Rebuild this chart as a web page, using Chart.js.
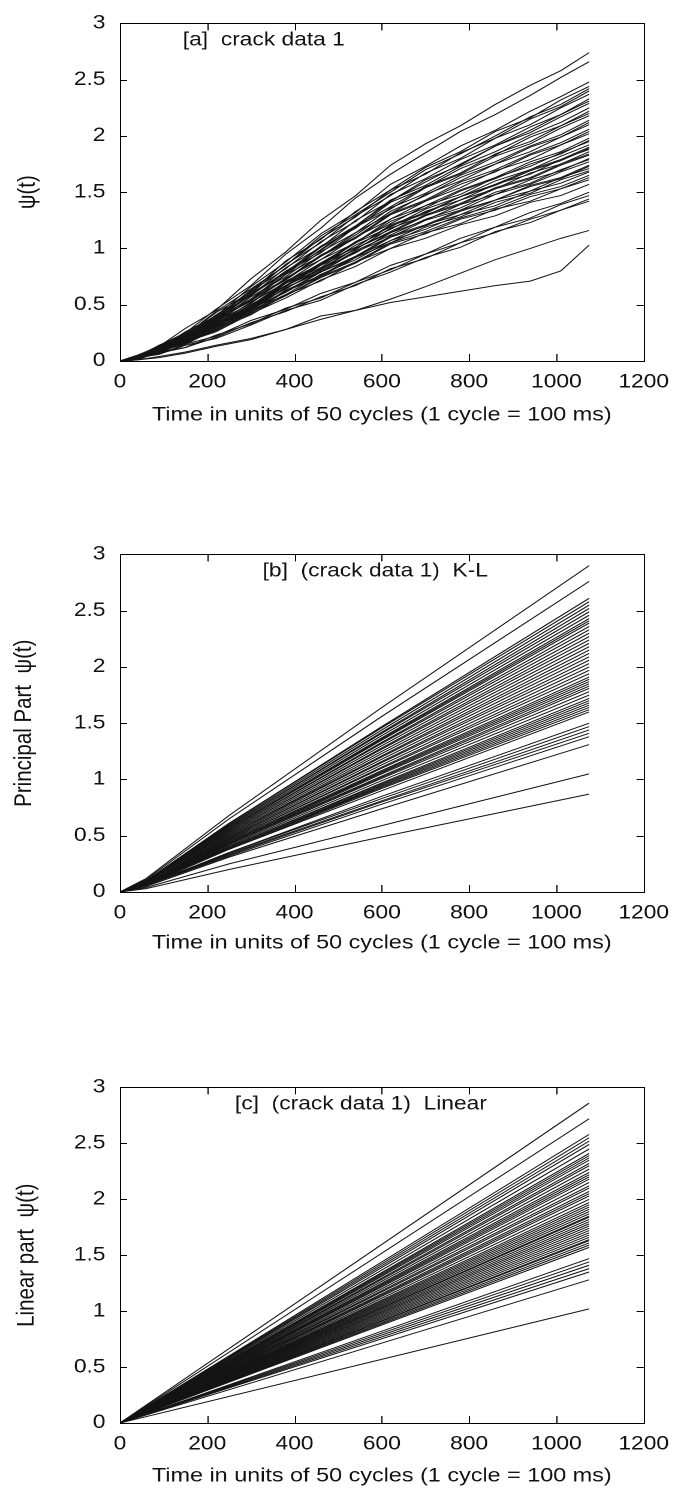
<!DOCTYPE html>
<html>
<head>
<meta charset="utf-8">
<script src="https://cdn.jsdelivr.net/npm/chart.js@4.4.1/dist/chart.umd.min.js"></script>
<style>
  html, body { margin: 0; padding: 0; background: #fff; }
  body { width: 681px; height: 1492px; position: relative; overflow: hidden; }
  .panel { position: absolute; left: 0; width: 568px; height: 440px; transform: scaleX(1.199); transform-origin: 0 0; }
</style>
</head>
<body>
<div class="panel" style="top:0px"><canvas id="ca" width="568" height="440"></canvas></div>
<div class="panel" style="top:531px"><canvas id="cb" width="568" height="440"></canvas></div>
<div class="panel" style="top:1064px"><canvas id="cc" width="568" height="440"></canvas></div>
<script>
// ---------- data ----------
const xTickValues = [0, 200, 400, 600, 800, 1000, 1200];
const yTickValues = [0, 0.5, 1, 1.5, 2, 2.5, 3];

const panelLabels = ["[a]  crack data 1", "[b]  (crack data 1)  K-L", "[c]  (crack data 1)  Linear"];
const yTitles = ["\u03c8(t)", "Principal Part  \u03c8(t)", "Linear part  \u03c8(t)"];
const xTitle = "Time in units of 50 cycles (1 cycle = 100 ms)";

// [a] raw crack data: time samples and psi(t) curves
const timeA = [0, 40, 90, 150, 220, 300, 380, 460, 540, 620, 700, 780, 860, 940, 1010, 1075];
const crackA = [
  [0, .05, .13, .29, .45, .73, .97, 1.25, 1.47, 1.74, 1.93, 2.09, 2.28, 2.45, 2.58, 2.74],
  [0, .03, .14, .25, .46, .67, .95, 1.18, 1.45, 1.66, 1.85, 2.04, 2.19, 2.36, 2.52, 2.66],
  [0, .05, .11, .26, .40, .66, .88, 1.13, 1.32, 1.57, 1.73, 1.91, 2.05, 2.22, 2.35, 2.48],
  [0, .03, .13, .23, .43, .61, .89, 1.08, 1.33, 1.52, 1.72, 1.86, 2.04, 2.16, 2.32, 2.44],
  [0, .04, .14, .23, .44, .64, .85, 1.11, 1.30, 1.50, 1.70, 1.84, 2.00, 2.17, 2.28, 2.42],
  [0, .02, .11, .25, .39, .63, .85, 1.09, 1.28, 1.52, 1.66, 1.85, 1.98, 2.15, 2.26, 2.40],
  [0, .05, .13, .22, .41, .60, .86, 1.05, 1.29, 1.47, 1.67, 1.80, 1.98, 2.10, 2.25, 2.37],
  [0, .03, .10, .24, .38, .62, .82, 1.06, 1.24, 1.48, 1.62, 1.79, 1.92, 2.08, 2.19, 2.33],
  [0, .02, .09, .20, .35, .55, .77, .99, 1.20, 1.42, 1.59, 1.75, 1.91, 2.05, 2.19, 2.31],
  [0, .04, .12, .21, .40, .58, .83, 1.01, 1.25, 1.42, 1.61, 1.74, 1.91, 2.03, 2.17, 2.29],
  [0, .02, .12, .24, .37, .60, .79, 1.02, 1.20, 1.43, 1.56, 1.73, 1.86, 2.01, 2.12, 2.25],
  [0, .04, .10, .23, .36, .59, .78, 1.01, 1.18, 1.41, 1.54, 1.71, 1.83, 1.99, 2.09, 2.22],
  [0, .05, .12, .24, .38, .58, .80, .98, 1.20, 1.37, 1.55, 1.67, 1.84, 1.95, 2.09, 2.20],
  [0, .03, .12, .21, .38, .55, .79, .96, 1.19, 1.35, 1.54, 1.66, 1.82, 1.93, 2.07, 2.18],
  [0, .05, .10, .22, .35, .57, .75, .97, 1.14, 1.36, 1.49, 1.65, 1.77, 1.91, 2.01, 2.14],
  [0, .03, .10, .19, .33, .52, .73, .93, 1.12, 1.33, 1.47, 1.63, 1.75, 1.90, 1.99, 2.12],
  [0, .02, .11, .20, .37, .53, .77, .93, 1.14, 1.31, 1.48, 1.60, 1.75, 1.86, 1.99, 2.10],
  [0, .04, .09, .22, .34, .55, .73, .94, 1.10, 1.31, 1.43, 1.59, 1.70, 1.84, 1.94, 2.06],
  [0, .04, .11, .21, .36, .54, .72, .93, 1.09, 1.30, 1.42, 1.57, 1.68, 1.83, 1.92, 2.04],
  [0, .03, .11, .19, .35, .51, .74, .90, 1.10, 1.26, 1.42, 1.54, 1.69, 1.79, 1.92, 2.02],
  [0, .04, .09, .21, .33, .52, .70, .90, 1.05, 1.26, 1.38, 1.52, 1.63, 1.77, 1.86, 1.98],
  [0, .02, .09, .19, .31, .49, .69, .87, 1.05, 1.24, 1.36, 1.51, 1.62, 1.75, 1.84, 1.96],
  [0, .02, .10, .19, .34, .49, .71, .86, 1.06, 1.22, 1.38, 1.48, 1.63, 1.73, 1.85, 1.95],
  [0, .03, .11, .18, .34, .48, .70, .85, 1.05, 1.19, 1.35, 1.46, 1.60, 1.70, 1.82, 1.92],
  [0, .04, .09, .20, .31, .50, .67, .87, 1.01, 1.21, 1.32, 1.46, 1.57, 1.70, 1.79, 1.90],
  [0, .03, .10, .20, .33, .50, .67, .86, 1.01, 1.20, 1.31, 1.46, 1.56, 1.69, 1.78, 1.89],
  [0, .02, .10, .18, .33, .47, .69, .83, 1.03, 1.17, 1.33, 1.43, 1.57, 1.66, 1.79, 1.88],
  [0, .03, .08, .20, .31, .49, .66, .85, .99, 1.18, 1.29, 1.43, 1.53, 1.67, 1.75, 1.86],
  [0, .04, .08, .19, .32, .47, .67, .82, 1.00, 1.15, 1.30, 1.40, 1.54, 1.63, 1.75, 1.84],
  [0, .04, .10, .17, .32, .46, .67, .81, 1.00, 1.14, 1.29, 1.39, 1.53, 1.62, 1.74, 1.83],
  [0, .02, .09, .19, .30, .48, .64, .82, .96, 1.14, 1.25, 1.39, 1.48, 1.61, 1.69, 1.80],
  [0, .02, .10, .17, .31, .46, .65, .80, .98, 1.12, 1.26, 1.36, 1.50, 1.58, 1.70, 1.79],
  [0, .03, .08, .17, .31, .45, .65, .79, .97, 1.10, 1.25, 1.34, 1.48, 1.57, 1.68, 1.77],
  [0, .04, .08, .18, .29, .46, .62, .79, .93, 1.11, 1.21, 1.34, 1.43, 1.56, 1.63, 1.74],
  [0, .03, .08, .18, .28, .46, .61, .79, .92, 1.10, 1.20, 1.33, 1.43, 1.55, 1.62, 1.73],
  [0, .02, .10, .16, .30, .43, .63, .76, .93, 1.07, 1.21, 1.30, 1.43, 1.51, 1.63, 1.71],
  [0, .04, .09, .16, .30, .43, .62, .75, .92, 1.05, 1.19, 1.28, 1.41, 1.49, 1.61, 1.69],
  [0, .03, .09, .16, .28, .45, .59, .77, .90, 1.07, 1.17, 1.30, 1.38, 1.51, 1.58, 1.68],
  [0, .03, .07, .18, .27, .44, .58, .75, .88, 1.05, 1.15, 1.27, 1.36, 1.48, 1.55, 1.65],
  [0, .03, .07, .17, .27, .43, .58, .74, .87, 1.04, 1.13, 1.26, 1.34, 1.46, 1.53, 1.63],
  [0, .02, .09, .15, .28, .41, .59, .71, .88, 1.00, 1.14, 1.22, 1.35, 1.42, 1.53, 1.61],
  [0, .03, .07, .17, .26, .42, .56, .72, .84, 1.00, 1.09, 1.21, 1.29, 1.41, 1.47, 1.57],
  [0, .03, .06, .15, .22, .36, .46, .60, .70, .85, .95, 1.09, 1.19, 1.32, 1.40, 1.50],
  [0, .01, .08, .12, .23, .33, .47, .56, .70, .81, .95, 1.05, 1.19, 1.27, 1.39, 1.47],
  [0, .02, .07, .12, .21, .34, .44, .57, .67, .82, .91, 1.05, 1.14, 1.26, 1.34, 1.44],
  [0, .03, .06, .14, .20, .32, .45, .54, .68, .79, .92, 1.01, 1.15, 1.23, 1.34, 1.42],
  [0, .01, .04, .08, .14, .20, .28, .37, .45, .55, .66, .78, .90, 1.00, 1.09, 1.16],
  [0, .01, .03, .07, .13, .19, .28, .40, .45, .52, .57, .62, .67, .71, .80, 1.03]
];

// [b] principal (K-L) part: time samples and curves
const timeB = [0, 60, 250, 600, 1075];
const principalB = [
  [0, .12, .68, 1.64, 2.90], [0, .11, .65, 1.56, 2.76], [0, .10, .61, 1.47, 2.61],
  [0, .10, .61, 1.46, 2.58], [0, .10, .60, 1.44, 2.55], [0, .10, .59, 1.42, 2.52],
  [0, .10, .59, 1.41, 2.49], [0, .10, .58, 1.39, 2.46], [0, .10, .57, 1.37, 2.43],
  [0, .10, .57, 1.36, 2.41], [0, .10, .56, 1.35, 2.39], [0, .09, .55, 1.33, 2.36],
  [0, .09, .55, 1.32, 2.33], [0, .09, .54, 1.30, 2.30], [0, .09, .53, 1.28, 2.27],
  [0, .09, .53, 1.27, 2.24], [0, .09, .52, 1.25, 2.21], [0, .09, .51, 1.23, 2.18],
  [0, .09, .51, 1.21, 2.15], [0, .08, .50, 1.20, 2.12], [0, .08, .49, 1.18, 2.09],
  [0, .08, .48, 1.16, 2.06], [0, .08, .48, 1.15, 2.03], [0, .08, .47, 1.13, 2.00],
  [0, .08, .46, 1.11, 1.97], [0, .08, .46, 1.10, 1.94], [0, .08, .45, 1.08, 1.91],
  [0, .08, .44, 1.07, 1.89], [0, .07, .44, 1.06, 1.87], [0, .07, .43, 1.05, 1.85],
  [0, .07, .43, 1.03, 1.83], [0, .07, .43, 1.02, 1.81], [0, .07, .42, 1.01, 1.78],
  [0, .07, .41, .99, 1.75], [0, .07, .40, .97, 1.72], [0, .07, .40, .96, 1.70],
  [0, .07, .39, .95, 1.68], [0, .07, .39, .94, 1.66], [0, .07, .39, .93, 1.64],
  [0, .06, .38, .92, 1.62], [0, .06, .38, .90, 1.60], [0, .06, .35, .85, 1.50],
  [0, .06, .35, .83, 1.47], [0, .06, .34, .81, 1.44], [0, .06, .33, .80, 1.41],
  [0, .06, .32, .78, 1.38], [0, .05, .31, .74, 1.31], [0, .04, .25, .59, 1.05],
  [0, .03, .20, .49, 0.87]
];

// [c] linear part: straight lines from the origin
const timeC = [0, 1075];
const linearC = [
  [0, 2.86], [0, 2.72], [0, 2.58], [0, 2.55], [0, 2.52], [0, 2.49], [0, 2.45], [0, 2.41],
  [0, 2.39], [0, 2.37], [0, 2.35], [0, 2.32], [0, 2.30], [0, 2.27], [0, 2.24], [0, 2.22],
  [0, 2.20], [0, 2.18], [0, 2.15], [0, 2.12], [0, 2.10], [0, 2.07], [0, 2.05], [0, 2.03],
  [0, 2.00], [0, 1.97], [0, 1.95], [0, 1.93], [0, 1.91], [0, 1.89], [0, 1.87], [0, 1.85],
  [0, 1.84], [0, 1.82], [0, 1.80], [0, 1.78], [0, 1.76], [0, 1.74], [0, 1.72], [0, 1.70],
  [0, 1.68], [0, 1.66], [0, 1.64], [0, 1.63], [0, 1.61], [0, 1.59], [0, 1.57], [0, 1.47],
  [0, 1.44], [0, 1.41], [0, 1.38], [0, 1.35], [0, 1.28], [0, 1.02]
];

// ---------- chart construction ----------
const FONT = "'Liberation Sans', Arial, Helvetica, sans-serif";

const frameAndTicks = {
  id: 'frameAndTicks',
  afterDraw(chart) {
    const { ctx, chartArea: a, scales: { x, y } } = chart;
    const o = chart.options.plugins.frameAndTicks;
    ctx.save();
    ctx.strokeStyle = '#000';
    ctx.lineWidth = 1;
    ctx.beginPath();
    x.ticks.forEach(t => {
      if (t.value <= x.min || t.value >= x.max) return;
      const px = Math.round(x.getPixelForValue(t.value)) + 0.5;
      ctx.moveTo(px, a.bottom); ctx.lineTo(px, a.bottom - 7);
      ctx.moveTo(px, a.top); ctx.lineTo(px, a.top + 7);
    });
    y.ticks.forEach(t => {
      if (t.value <= y.min || t.value >= y.max) return;
      const py = Math.round(y.getPixelForValue(t.value)) + 0.5;
      ctx.moveTo(a.left, py); ctx.lineTo(a.left + 6, py);
      ctx.moveTo(a.right, py); ctx.lineTo(a.right - 6, py);
    });
    ctx.stroke();
    ctx.strokeRect(Math.round(a.left) + 0.5, Math.round(a.top) + 0.5, Math.round(a.right - a.left), Math.round(a.bottom - a.top));
    ctx.fillStyle = '#111';
    ctx.font = '19px ' + FONT;
    ctx.textAlign = 'center';
    ctx.textBaseline = 'middle';
    ctx.fillText(o.label, a.left + o.labelDx, a.top + o.labelDy);
    ctx.restore();
  }
};

function makeChart(id, times, curves, cfg) {
  const datasets = curves.map(c => ({
    data: c.map((v, i) => ({ x: times[i], y: v })),
    borderColor: '#151515',
    borderWidth: 1,
    pointRadius: 0,
    fill: false,
    tension: 0
  }));
  return new Chart(document.getElementById(id), {
    type: 'line',
    data: { datasets },
    options: {
      responsive: false,
      devicePixelRatio: 2,
      animation: false,
      events: [],
      layout: { padding: { left: 0, right: 30, top: cfg.top, bottom: 0 } },
      plugins: {
        legend: { display: false },
        tooltip: { enabled: false },
        frameAndTicks: { label: cfg.label, labelDx: cfg.labelDx, labelDy: 17 }
      },
      scales: {
        x: {
          type: 'linear', min: 0, max: 1200,
          afterBuildTicks: s => { s.ticks = xTickValues.map(v => ({ value: v })); },
          afterFit: s => { s.height = cfg.xAxisH; },
          grid: { display: false, drawTicks: false },
          border: { display: false },
          ticks: { padding: 10, color: '#111', font: { family: FONT, size: 19 }, maxRotation: 0, callback: v => String(v) },
          title: { display: true, text: xTitle, color: '#111', font: { family: FONT, size: 19.5 }, padding: { top: 0, bottom: cfg.xTitlePad } }
        },
        y: {
          type: 'linear', min: 0, max: 3,
          afterBuildTicks: s => { s.ticks = yTickValues.map(v => ({ value: v })); },
          afterFit: s => { s.width = 100; },
          grid: { display: false, drawTicks: false },
          border: { display: false },
          ticks: { padding: 12, color: '#111', font: { family: FONT, size: 19 }, callback: v => String(v) },
          title: { display: true, text: cfg.yTitle, color: '#111', font: { family: FONT, size: 20.5 }, padding: { top: cfg.yTitlePad, bottom: 0 } }
        }
      }
    },
    plugins: [frameAndTicks]
  });
}

makeChart('ca', timeA, crackA, { top: 15, xAxisH: 79, xTitlePad: 13, label: panelLabels[0], labelDx: 120, yTitle: yTitles[0], yTitlePad: 11 });
makeChart('cb', timeB, principalB, { top: 15, xAxisH: 79, xTitlePad: 16, label: panelLabels[1], labelDx: 213, yTitle: yTitles[1], yTitlePad: 8 });
makeChart('cc', timeC, linearC, { top: 15, xAxisH: 81, xTitlePad: 16, label: panelLabels[2], labelDx: 201, yTitle: yTitles[2], yTitlePad: 10 });
</script>
</body>
</html>
